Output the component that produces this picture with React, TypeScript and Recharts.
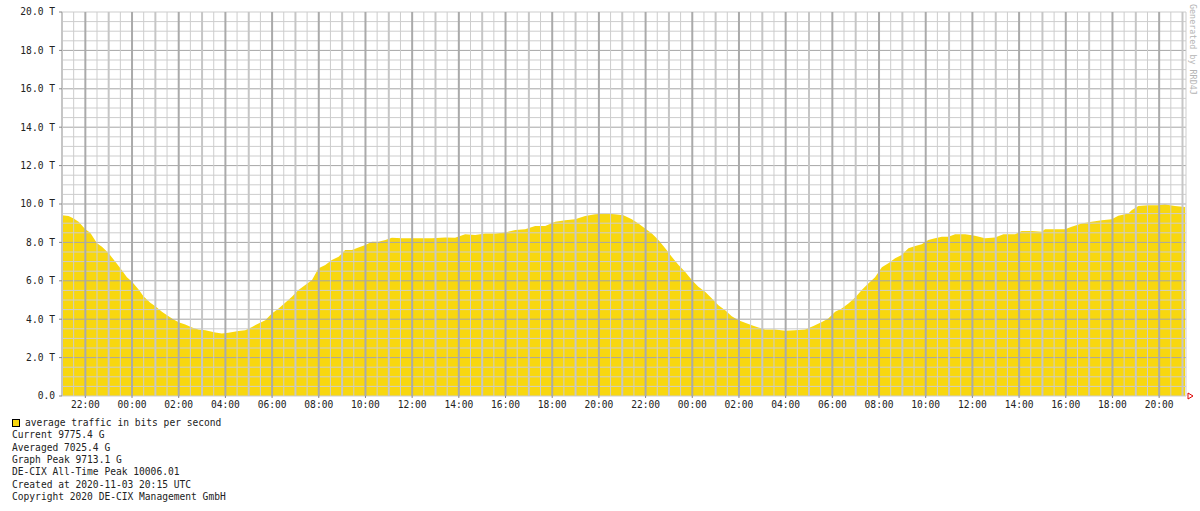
import React from 'react';
import { AreaChart, Area, XAxis, YAxis, ReferenceLine, ReferenceDot } from 'recharts';

// hours since 21:00 on the first day
const hours = [
  0.0, 0.28, 0.5, 0.71, 1.0, 1.21, 1.5, 1.71, 2.0, 2.21, 2.5, 2.78, 3.0, 3.28, 3.49, 3.78,
  4.0, 4.28, 4.5, 4.78, 5.02, 5.28, 5.57, 5.85, 6.14, 6.57, 6.85, 7.13, 7.56, 7.85, 8.14,
  8.42, 8.71, 8.99, 9.28, 9.56, 9.85, 10.13, 10.42, 10.71, 10.99, 11.28, 11.56, 11.85,
  12.13, 12.42, 12.7, 12.99, 13.28, 13.56, 13.85, 14.13, 14.56, 14.99, 15.42, 15.85, 16.42,
  16.84, 17.27, 17.7, 18.13, 18.56, 18.99, 19.42, 19.84, 20.27, 20.7, 21.13, 21.56, 21.98,
  22.41, 22.84, 23.27, 23.69, 24.05, 24.41, 24.69, 24.98, 25.27, 25.55, 25.84, 26.12, 26.41,
  26.69, 26.98, 27.26, 27.55, 27.84, 28.12, 28.41, 28.69, 28.98, 29.26, 29.55, 29.83, 30.12,
  30.55, 30.98, 31.4, 31.83, 32.19, 32.55, 32.83, 33.12, 33.4, 33.69, 33.98, 34.26, 34.54,
  34.83, 35.12, 35.4, 35.69, 35.97, 36.26, 36.55, 36.83, 37.11, 37.4, 37.69, 37.97, 38.26,
  38.69, 39.11, 39.54, 39.97, 40.33, 40.83, 41.11, 41.54, 41.97, 42.11, 42.54, 42.97, 43.25,
  43.68, 44.11, 44.54, 44.97, 45.25, 45.68, 45.82, 46.11, 46.53, 46.96, 47.25, 47.68, 48.11,
];

// average traffic, Tbit/s
const trafficT = [
  9.42, 9.37, 9.25, 9.07, 8.68, 8.5, 7.95, 7.77, 7.43, 7.11, 6.65, 6.18, 5.95, 5.55, 5.2, 4.86,
  4.68, 4.39, 4.21, 3.99, 3.83, 3.73, 3.57, 3.47, 3.43, 3.31, 3.26, 3.29, 3.38, 3.43, 3.6,
  3.78, 3.95, 4.3, 4.56, 4.86, 5.17, 5.52, 5.78, 6.04, 6.65, 6.82, 7.08, 7.25,
  7.6, 7.6, 7.74, 7.86, 8.03, 8.03, 8.12, 8.24, 8.21, 8.21, 8.21, 8.21, 8.26,
  8.24, 8.42, 8.38, 8.47, 8.47, 8.52, 8.64, 8.68, 8.85, 8.86, 9.07, 9.16, 9.21,
  9.37, 9.47, 9.51, 9.47, 9.41, 9.2, 8.99, 8.73, 8.47, 8.12, 7.69, 7.25, 6.82,
  6.47, 6.04, 5.69, 5.43, 5.08, 4.73, 4.47, 4.16, 3.95, 3.81, 3.69, 3.57, 3.47,
  3.47, 3.4, 3.43, 3.47, 3.64, 3.86, 4.04, 4.39, 4.56, 4.82, 5.13, 5.52, 5.86,
  6.18, 6.7, 6.91, 7.17, 7.34, 7.69, 7.81, 7.9, 8.12, 8.21, 8.29, 8.29, 8.43,
  8.43, 8.34, 8.21, 8.26, 8.43, 8.43, 8.59, 8.6, 8.55, 8.69, 8.68, 8.68, 8.81,
  8.99, 9.07, 9.16, 9.2, 9.39, 9.51, 9.68, 9.9, 9.94, 9.94, 9.98, 9.89, 9.85,
];

const timeLabels = [
  '22:00', '00:00', '02:00', '04:00', '06:00', '08:00', '10:00', '12:00', '14:00', '16:00', '18:00', '20:00',
  '22:00', '00:00', '02:00', '04:00', '06:00', '08:00', '10:00', '12:00', '14:00', '16:00', '18:00', '20:00',
];
const yLabelTicks = [0, 2, 4, 6, 8, 10, 12, 14, 16, 18, 20];

const legendLines = [
  'Current 9775.4 G',
  'Averaged 7025.4 G',
  'Graph Peak 9713.1 G',
  'DE-CIX All-Time Peak 10006.01',
  'Created at 2020-11-03 20:15 UTC',
  'Copyright 2020 DE-CIX Management GmbH',
];

const X_MAX = 48.15;
const xLabelTicks = timeLabels.map((_, i) => 1 + 2 * i);

// grid: half-hour / hour / two-hour verticals, 0.5 T / 2 T horizontals
const vGrid = [
  ...Array.from({ length: 97 }, (_, i) => i * 0.5),
  X_MAX,
].map((x) => {
  const major = Math.abs(x - Math.round(x)) < 1e-6 && Math.round(x) % 2 === 1;
  const hour = Math.abs(x - Math.round(x)) < 1e-6;
  return {
    x,
    stroke: major ? '#aaaaaa' : hour ? '#c6c6c6' : '#cdcdcd',
    width: hour ? 2 : 1,
  };
});
const hGrid = Array.from({ length: 41 }, (_, i) => i * 0.5).map((y) => ({
  y,
  stroke: y % 2 === 0 && y !== 20 && y !== 0 ? '#a6a6a6' : '#cdcdcd',
  width: 1,
}));

const FONT = '"DejaVu Sans Mono", monospace';
const YELLOW = '#f8d70f';

const data = hours.map((h, i) => ({ h, v: trafficT[i] }));

const App: React.FC = () => {
  const tickStyle = { fontFamily: FONT, fontSize: 9.6, fill: '#222' };

  return (
    <div style={{ position: 'relative', width: 1200, height: 511, background: '#fff', fontFamily: FONT }}>
      <style>{`body{margin:0}`}</style>

      <AreaChart width={1200} height={412} data={data} margin={{ top: 12, right: 14, bottom: 0, left: 0 }}>
        <XAxis
          dataKey="h"
          type="number"
          domain={[0, X_MAX]}
          ticks={xLabelTicks}
          tickFormatter={(t: number) => timeLabels[Math.round((t - 1) / 2)] ?? ''}
          interval={0}
          height={16}
          axisLine={false}
          tickLine={{ stroke: '#888' }}
          tickSize={2}
          tickMargin={3}
          tick={tickStyle}
          allowDataOverflow
        />
        <YAxis
          type="number"
          domain={[0, 20]}
          ticks={yLabelTicks}
          tickFormatter={(v: number) => (v === 0 ? '0.0' : `${v.toFixed(1)} T`)}
          interval={0}
          width={62}
          axisLine={false}
          tickLine={{ stroke: '#888' }}
          tickSize={3}
          tickMargin={4}
          tick={tickStyle}
          allowDataOverflow
        />

        <Area
          type="linear"
          dataKey="v"
          stroke="none"
          fill={YELLOW}
          fillOpacity={1}
          isAnimationActive={false}
        />

        {/* grid is drawn over the area, like the RRD image */}
        {hGrid.map((g) => (
          <ReferenceLine key={`h${g.y}`} y={g.y} stroke={g.stroke} strokeWidth={g.width} ifOverflow="visible" />
        ))}
        {vGrid.filter((g) => g.width === 1).map((g) => (
          <ReferenceLine key={`v${g.x}`} x={g.x} stroke={g.stroke} strokeWidth={g.width} ifOverflow="visible" />
        ))}
        {vGrid.filter((g) => g.width === 2).map((g) => (
          <ReferenceLine key={`v${g.x}`} x={g.x} stroke={g.stroke} strokeWidth={g.width} ifOverflow="visible" />
        ))}

        <ReferenceDot
          x={X_MAX}
          y={0}
          r={3}
          ifOverflow="visible"
          shape={(p: any) => (
            <polygon
              points={`${p.cx + 2},${p.cy - 3} ${p.cx + 7},${p.cy} ${p.cx + 2},${p.cy + 3}`}
              fill="none"
              stroke="#e00000"
              strokeWidth={1}
            />
          )}
        />
      </AreaChart>

      {/* right-hand credit */}
      <div
        style={{
          position: 'absolute',
          left: 1188,
          top: 4,
          fontSize: 8.4,
          color: '#b4b4b4',
          whiteSpace: 'nowrap',
          transformOrigin: '0 0',
          transform: 'rotate(90deg) translateY(-10px)',
          lineHeight: '10px',
        }}
      >
        Generated by RRD4J
      </div>

      {/* legend block */}
      <div style={{ position: 'absolute', left: 12, top: 417, fontSize: 9.6, lineHeight: '12.35px', color: '#222' }}>
        <div style={{ display: 'flex', alignItems: 'center' }}>
          <span
            style={{
              display: 'inline-block',
              width: 6,
              height: 6,
              background: YELLOW,
              border: '1px solid #000',
              marginRight: 5,
            }}
          />
          <span>average traffic in bits per second</span>
        </div>
        {legendLines.map((line) => (
          <div key={line} style={{ whiteSpace: 'pre' }}>{line}</div>
        ))}
      </div>
    </div>
  );
};

export default App;
